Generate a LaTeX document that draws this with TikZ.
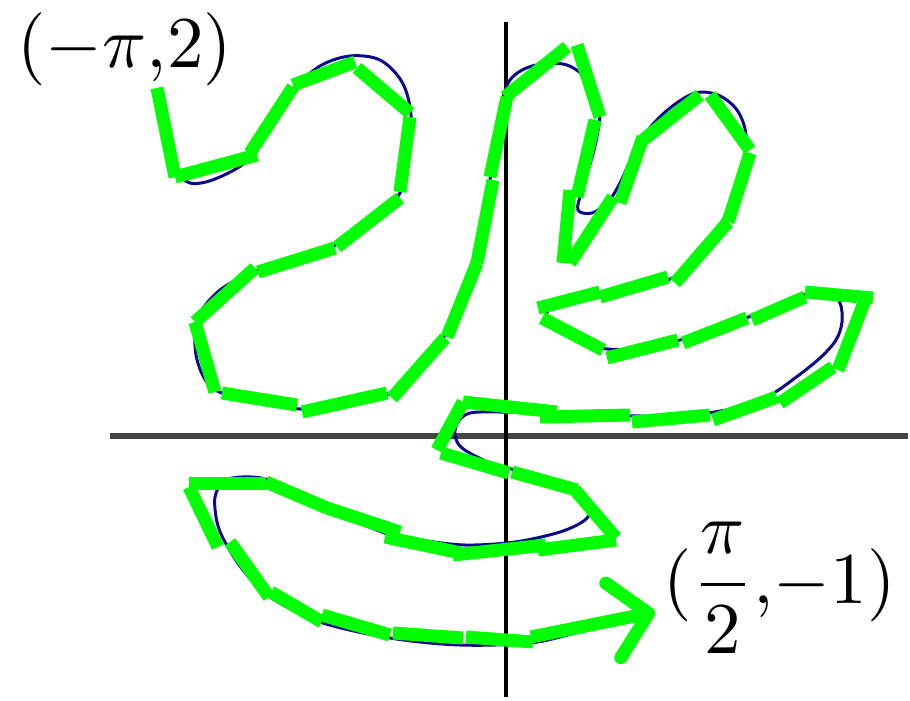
\documentclass[tikz,border=0pt]{standalone}
\usepackage{amsmath}
\usetikzlibrary{arrows.meta}
\definecolor{segCol}{RGB}{0,255,0}
\definecolor{curveCol}{RGB}{10,10,140}
\definecolor{axisCol}{RGB}{68,68,68}
\tikzset{
  seg/.style={segCol, line width=13pt},
  curve/.style={curveCol, line width=3pt},
  haxis/.style={axisCol, line width=6pt},
  vaxis/.style={black, line width=4pt},
  lbl/.style={scale=7.3, inner sep=0pt, anchor=base west},
  tip/.style={-{Straight Barb[length=36pt, width=76pt, round]}},
}
\begin{document}
\begin{tikzpicture}[x=1pt, y=-1pt]
  \useasboundingbox (0,0) rectangle (910,701);

  % axes
  \draw[haxis] (110,436) -- (908,436);
  \draw[vaxis] (506,22) -- (506,697);

  % exact curve
  \draw[curve] plot[smooth, tension=0.55] coordinates {
    (158,88) (166,125) (176,168) (190,183) (215,179) (248,160) (272,123)
    (293,90) (320,66) (350,56) (380,60) (402,82) (411,115) (408,160)
    (400,193) (372,223) (338,244) (298,257) (256,271) (220,290) (198,318)
    (196,355) (210,386) (240,398) (300,409) (345,405) (388,394) (420,365)
    (445,335) (468,280) (483,220) (493,160) (500,110) (510,80) (532,66)
    (563,64) (583,75) (597,93) (600,115) (594,150) (582,190) (578,210)
    (592,213) (608,202) (620,183) (633,155) (648,130) (670,108) (695,93)
    (718,95) (737,110) (746,135) (742,168) (728,210) (708,243) (685,270)
    (660,283) (625,292) (585,300) (556,306) (546,316) (560,332) (600,348)
    (640,348) (680,340) (720,329) (760,312) (800,296) (828,291) (840,303)
    (842,322) (836,340) (820,358) (795,378) (770,395) (735,408) (690,415)
    (640,416) (590,414) (540,413) (500,412) (470,413) (458,422) (455,435)
    (462,448) (488,462) (515,470) (550,480) (578,492) (590,508) (585,520)
    (560,532) (515,542) (465,545) (420,540) (390,535) (330,510) (290,490)
    (266,479) (242,477) (224,481) (215,497) (217,522) (225,542) (243,570)
    (270,597) (320,622) (390,638) (460,645) (530,643) (575,633) (615,622)
    (650,613)};

  % step segments
  \foreach \xa/\ya/\xb/\yb in {
      157/88/175/177, 175/177/257/155, 250/153/293/87, 293/85/355/62,
      357/68/410/113, 410/117/400/192, 400/198/337/247, 335/248/258/272,
      255/268/195/322, 195/322/215/392, 222/393/297/405, 302/412/387/393,
      392/398/445/338, 447/337/477/263, 477/263/493/180, 490/177/507/97,
      505/97/567/47, 577/45/600/117, 595/120/577/197, 570/190/563/263,
      570/263/613/197, 620/203/643/137, 643/140/700/95, 710/95/750/150,
      750/153/728/222, 728/222/675/283, 668/277/600/297, 600/292/538/308,
      542/318/603/350, 607/358/678/340, 683/343/747/318, 752/320/805/297,
      805/292/873/298, 865/300/838/370, 833/367/780/403, 777/397/713/420,
      710/415/632/422, 630/415/540/417, 557/412/463/402, 463/402/437/450,
      441/453/509/473, 512/472/577/490, 575/490/616/538, 616/540/538/550,
      546/545/453/555, 461/553/385/537, 400/532/327/508, 327/508/266/482,
      266/483/189/483, 189/487/218/547, 230/542/269/597, 271/592/322/622,
      322/615/390/635, 393/633/463/638, 466/637/533/642}
    \draw[seg] (\xa,\ya) -- (\xb,\yb);
  \draw[seg, tip] (531,637) -- (655,612);

  % end points
  \node[lbl] (startLbl) at (16,67) {$(-\pi,\!2)$};
  \node[lbl] (endLbl) at (662,603) {$(\dfrac{\pi}{2},\!-1)$};
\end{tikzpicture}
\end{document}
